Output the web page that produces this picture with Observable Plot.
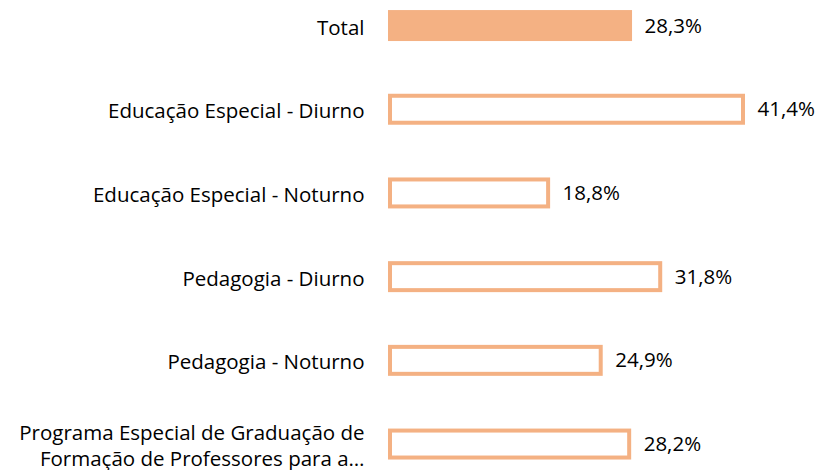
<!DOCTYPE html>
<html>
<head>
<meta charset="utf-8">
<script src="https://cdn.jsdelivr.net/npm/d3@7"></script>
<script src="https://cdn.jsdelivr.net/npm/@observablehq/plot@0.6"></script>
<style>
  html, body { margin: 0; padding: 0; background: #fff; }
  #chart svg { display: block; }
</style>
</head>
<body>
<div id="chart"></div>
<script>
const categories = [
  "Total",
  "Educação Especial - Diurno",
  "Educação Especial - Noturno",
  "Pedagogia - Diurno",
  "Pedagogia - Noturno",
  "Programa Especial de Graduação de\nFormação de Professores para a…"
];
const values = [28.3, 41.4, 18.8, 31.8, 24.9, 28.2];
const isTotal = [true, false, false, false, false, false];

const data = categories.map((c, i) => ({cat: c, value: values[i], total: isTotal[i]}));
const fmt = v => v.toFixed(1).replace(".", ",") + "%";
const color = "#F4B183";
const font = "'Open Sans', sans-serif";

const chart = Plot.plot({
  width: 823,
  height: 470,
  marginLeft: 388,
  marginRight: 78,
  marginTop: 0,
  marginBottom: 0,
  style: {fontFamily: font, fontSize: "20.5px", color: "#000", background: "#fff"},
  x: {domain: [0, 41.4], axis: null},
  y: {domain: categories, range: [-16.3, 485.9], paddingInner: 0.63, paddingOuter: 0.315, round: false, axis: null},
  marks: [
    Plot.barX(data.filter(d => d.total), {x: "value", y: "cat", fill: color}),
    Plot.barX(data.filter(d => !d.total), {x: "value", y: "cat", fill: "white", stroke: color, strokeWidth: 4, inset: 2}),
    Plot.text(data, {x: "value", y: "cat", text: d => fmt(d.value), textAnchor: "start", dx: 12, fill: "#000", fontSize: 20.5}),
    Plot.text(data, {x: 0, y: "cat", text: "cat", textAnchor: "end", dx: -24, fill: "#000", fontSize: 20.5, lineHeight: 1.3})
  ]
});
document.getElementById("chart").appendChild(chart);
</script>
</body>
</html>
